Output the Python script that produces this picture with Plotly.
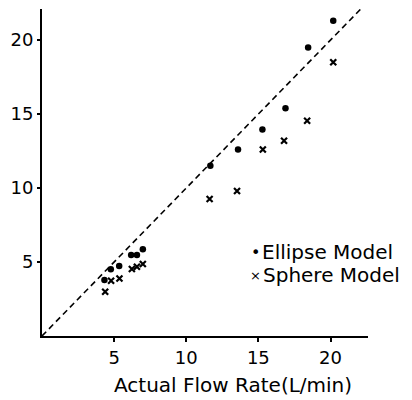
import plotly.graph_objects as go

ellipse_x = [4.33, 4.77, 5.35, 6.18, 6.58, 6.99, 11.67, 13.59, 15.28, 16.88, 18.45, 20.19]
ellipse_y = [3.78, 4.51, 4.73, 5.47, 5.47, 5.86, 11.5, 12.6, 13.95, 15.4, 19.5, 21.3]
sphere_x = [4.38, 4.79, 5.37, 6.23, 6.58, 6.99, 11.62, 13.52, 15.31, 16.78, 18.38, 20.19]
sphere_y = [2.99, 3.74, 3.88, 4.53, 4.68, 4.86, 9.26, 9.8, 12.6, 13.2, 14.55, 18.5]
ideal_line = [0, 22.1]
tick_vals = [5, 10, 15, 20]
tick_text = ["5", "10", "15", "20"]
x_title = "Actual Flow Rate(L/min)"

FONT = "DejaVu Sans"
OFF = 8  # page body margin

W, H = 404, 392
L, R, T, B = 34, 44, 1, 64
pw, ph = W - L - R, H - T - B


def px_to_paper(x, y):
    return (x - OFF - L) / pw, 1 - (y - OFF - T) / ph


def add_text(text, px, py, size, xanchor="left"):
    ax, ay = px_to_paper(px, py)
    fig.add_annotation(x=ax, y=ay, xref="paper", yref="paper", text=text,
                       showarrow=False, xanchor=xanchor, yanchor="middle",
                       font=dict(family=FONT, size=size, color="black"))


fig = go.Figure()
fig.add_trace(go.Scatter(x=ideal_line, y=ideal_line, mode="lines",
                         line=dict(color="black", width=1.6, dash="6px,4px"),
                         showlegend=False, hoverinfo="skip"))
fig.add_trace(go.Scatter(x=ellipse_x, y=ellipse_y, mode="markers", name="Ellipse Model",
                         marker=dict(symbol="circle", size=6.5, color="black"),
                         showlegend=False))
fig.add_trace(go.Scatter(x=sphere_x, y=sphere_y, mode="markers", name="Sphere Model",
                         marker=dict(symbol="x-thin", size=6, color="black",
                                     line=dict(width=2.2, color="black")),
                         showlegend=False))

# legend (text + small symbols)
add_text("•", 255, 252, 16, "center")
add_text("Ellipse Model", 260, 252, 20)
add_text("×", 255, 275, 13, "center")
add_text("Sphere Model", 261, 275, 20)
# x-axis title
add_text(x_title, 233, 385, 20, "center")

fig.update_layout(
    width=W, height=H,
    margin=dict(l=L, r=R, t=T, b=B, autoexpand=False),
    paper_bgcolor="white", plot_bgcolor="white",
    font=dict(family=FONT, size=17, color="black"),
    xaxis=dict(range=[0, 22.6], showline=True, linecolor="black", linewidth=2,
               showgrid=False, zeroline=False, tickmode="array",
               tickvals=tick_vals, ticktext=tick_text, ticks="outside",
               ticklen=4, tickwidth=1.5, tickcolor="black",
               tickfont=dict(size=18)),
    yaxis=dict(range=[0, 22.1], showline=True, linecolor="black", linewidth=2,
               showgrid=False, zeroline=False, tickmode="array",
               tickvals=tick_vals, ticktext=tick_text, ticks="outside",
               ticklen=3, tickwidth=1.5, tickcolor="black",
               tickfont=dict(size=18)),
)

fig.write_html("out.html")
